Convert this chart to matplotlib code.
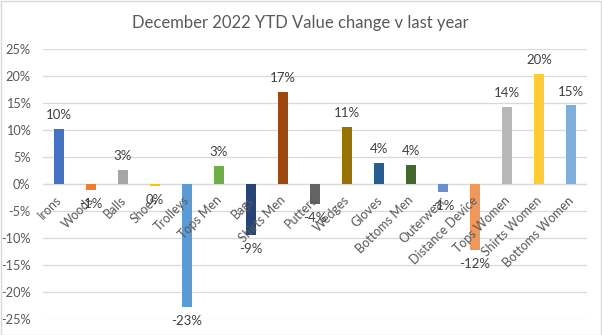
import matplotlib
matplotlib.use("Agg")
import matplotlib.pyplot as plt
from matplotlib.ticker import FuncFormatter

plt.rcParams['font.family'] = ['Lato', 'DejaVu Sans']

categories = ["Irons", "Woods", "Balls", "Shoes", "Trolleys", "Tops Men", "Bags",
              "Shirts Men", "Putters", "Wedges", "Gloves", "Bottoms Men", "Outerwear",
              "Distance Device", "Tops Women", "Shirts Women", "Bottoms Women"]
values = [10.2, -1.0, 2.6, -0.4, -22.8, 3.4, -9.4, 17.1, -3.7, 10.6, 3.9, 3.6, -1.4,
          -12.1, 14.3, 20.4, 14.6]
colors = ["#4472C4", "#ED7D31", "#A5A5A5", "#FFC000", "#5B9BD5", "#70AD47", "#264478",
          "#9E480E", "#636363", "#997300", "#255E91", "#43682B", "#698ED0", "#F1975A",
          "#B7B7B7", "#FFCD33", "#7CAFDD"]
yticks = [-25, -20, -15, -10, -5, 0, 5, 10, 15, 20, 25]
title = "December 2022 YTD Value change v last year"

W, H = 602, 335
fig = plt.figure(figsize=(W / 100, H / 100), dpi=100)
fig.patch.set_facecolor("white")
# chart border
fig.add_artist(plt.Rectangle((0.5 / W, 0.5 / H), 1 - 1.5 / W, 1 - 1.5 / H, transform=fig.transFigure,
                             fill=False, edgecolor="#D9D9D9", linewidth=1))

left, right = 43, 587
top, bottom = 49.3, 319.3
ax = fig.add_axes([left / W, 1 - bottom / H, (right - left) / W, (bottom - top) / H])

x = list(range(len(categories)))
ax.bar(x, values, width=0.31, color=colors, zorder=3)

ax.set_xlim(-0.5, len(categories) - 0.5)
ax.set_ylim(-25, 25)
ax.set_yticks(yticks)
ax.yaxis.set_major_formatter(FuncFormatter(lambda v, p: f"{int(round(v))}%"))
ax.tick_params(axis='y', length=0, labelsize=9.2, labelcolor="#595959", pad=9)
ax.grid(axis='y', color="#D9D9D9", linewidth=0.9, zorder=0)
for s in ax.spines.values():
    s.set_visible(False)
ax.axhline(0, color="#D9D9D9", linewidth=0.9, zorder=2)
ax.set_xticks([])

for xi, cat in zip(x, categories):
    ax.annotate(cat, (xi, 0), xytext=(-2.5, -7), textcoords="offset points",
                rotation=45, ha='right', va='top', rotation_mode='anchor',
                fontsize=9.0, color="#595959")

for xi, v in zip(x, values):
    r = int(round(v)) + 0
    txt = f"{r}%"
    off = 10 if v >= 0 else -10
    ax.annotate(txt, (xi, v), xytext=(0, off), textcoords="offset points",
                ha='center', va='center', fontsize=9.5, color="#404040", zorder=5)

fig.text(300 / W, 1 - 23 / H, title, ha='center', va='center', fontsize=12, color="#595959")

fig.savefig("out.png", dpi=100)
